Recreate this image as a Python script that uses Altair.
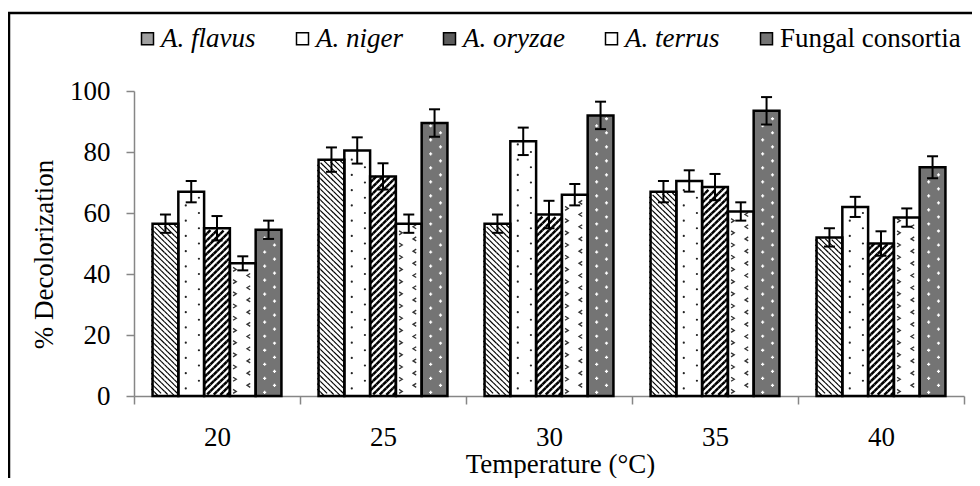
import altair as alt
import pandas as pd

temps = ["20", "25", "30", "35", "40"]
series = ["A. flavus", "A. niger", "A. oryzae", "A. terrus", "Fungal consortia"]

flavus = [56.5, 77.5, 56.5, 67.0, 52.0]
niger = [67.0, 80.5, 83.5, 70.5, 62.0]
oryzae = [55.0, 72.0, 59.5, 68.5, 50.0]
terrus = [43.5, 56.5, 66.0, 60.5, 58.5]
consortia = [54.5, 89.5, 92.0, 93.5, 75.0]

flavus_err = [3.0, 4.0, 3.0, 3.5, 3.0]
niger_err = [3.5, 4.3, 4.5, 3.5, 3.3]
oryzae_err = [4.0, 4.3, 4.5, 4.3, 4.0]
terrus_err = [2.3, 3.0, 3.5, 3.0, 3.0]
consortia_err = [3.0, 4.5, 4.5, 4.5, 3.6]

# bar background fills and legend swatch fills
bar_fills = ["#ffffff", "#ffffff", "#ffffff", "#ffffff", "#747474"]
legend_fills = ["#a0a0a0", "#ffffff", "#5c5c5c", "#ffffff", "#747474"]

vals = [flavus, niger, oryzae, terrus, consortia]
errs = [flavus_err, niger_err, oryzae_err, terrus_err, consortia_err]

rows = []
for si, (s, v, e) in enumerate(zip(series, vals, errs)):
    for t, vv, ee in zip(temps, v, e):
        rows.append({"temp": t, "series": s, "si": si, "value": vv, "err": ee})
df = pd.DataFrame(rows)

FONT = "Liberation Serif"
K = 8  # sub-columns per bar for textures
PO = 0.72
NPAD = 5  # whole padding slots on each side of the fine offset domain

x_enc = alt.X(
    "temp:N",
    sort=temps,
    scale=alt.Scale(paddingInner=0, paddingOuter=0),
    axis=alt.Axis(
        title="Temperature (°C)",
        tickBand="extent",
        labelAngle=0,
        labelFont=FONT,
        labelFontSize=27,
        labelPadding=20,
        tickSize=8,
        tickColor="#868686",
        domainColor="#868686",
        domainWidth=1.5,
        tickWidth=1.5,
        titleFont=FONT,
        titleFontSize=27,
        titleFontWeight="normal",
        titleX=426,
        titleY=76,
        titleBaseline="alphabetic",
    ),
)
xo_enc = alt.XOffset(
    "series:N", sort=series, scale=alt.Scale(domain=series, paddingOuter=PO, paddingInner=0)
)
fine_domain = list(range(-NPAD, 5 * K + NPAD))
xo_fine = alt.XOffset(
    "key:O",
    scale=alt.Scale(domain=fine_domain, paddingOuter=PO * K - NPAD, paddingInner=0),
)
y_scale = alt.Scale(domain=[0, 100], nice=False)

y_enc = alt.Y(
    "value:Q",
    scale=y_scale,
    axis=alt.Axis(
        title="% Decolorization",
        values=[0, 20, 40, 60, 80, 100],
        grid=False,
        labelFont=FONT,
        labelFontSize=27,
        labelPadding=16,
        tickSize=8,
        tickColor="#868686",
        domainColor="#868686",
        domainWidth=1.5,
        tickWidth=1.5,
        titleFont=FONT,
        titleFontSize=27,
        titleFontWeight="normal",
        titleX=-76,
        titleY=163,
    ),
)

base = alt.Chart(df)

bars_fill = base.mark_bar(strokeWidth=0).encode(
    x=x_enc,
    xOffset=xo_enc,
    y=y_enc,
    fill=alt.Fill("series:N", sort=series, scale=alt.Scale(domain=series, range=bar_fills), legend=None),
)

bars_outline = base.mark_bar(fill=None, stroke="black", strokeWidth=2.5).encode(
    x=x_enc, xOffset=xo_enc, y=alt.Y("value:Q", scale=y_scale)
)

SIDE = 1.0565  # one sub-column width expressed in value units (45 degree lines)


def hatch(series_name, period, direction, width):
    sign = "-" if direction == "back" else ""
    shape = "M-1,-1L1,1" if direction == "back" else "M-1,1L1,-1"
    start = (
        f"0.53 + (((({sign}datum.sub*{SIDE} - 0.53) % {period}) + {period}) % {period})"
    )
    return (
        base.transform_filter(alt.datum.series == series_name)
        .transform_calculate(subs=f"sequence(0, {K})")
        .transform_flatten(["subs"], as_=["sub"])
        .transform_calculate(key=f"datum.si*{K} + datum.sub")
        .transform_calculate(ys=f"sequence({start}, datum.value - 0.5, {period})")
        .transform_flatten(["ys"], as_=["yy"])
        .mark_point(shape=shape, size=10.4, stroke="black", strokeWidth=width, filled=False, opacity=1)
        .encode(x=x_enc, xOffset=xo_fine, y=alt.Y("yy:Q", scale=y_scale))
    )


def dots(series_name, subs, step, shape, size, color, filled, width=1.0):
    starts = " : ".join(
        [f"datum.sub == {s} ? {st}" for s, st in subs[:-1]] + [str(subs[-1][1])]
    )
    sub_list = "[" + ",".join(str(s) for s, _ in subs) + "]"
    m = dict(shape=shape, size=size, opacity=1)
    if filled:
        m.update(filled=True, fill=color, strokeWidth=0)
    else:
        m.update(filled=False, stroke=color, strokeWidth=width)
    return (
        base.transform_filter(alt.datum.series == series_name)
        .transform_calculate(subs=sub_list)
        .transform_flatten(["subs"], as_=["sub"])
        .transform_calculate(key=f"datum.si*{K} + datum.sub")
        .transform_calculate(ys=f"sequence({starts}, datum.value - 0.8, {step})")
        .transform_flatten(["ys"], as_=["yy"])
        .mark_point(**m)
        .encode(x=x_enc, xOffset=xo_fine, y=alt.Y("yy:Q", scale=y_scale))
    )


tex_flavus = hatch("A. flavus", 1.75, "back", 1.15)
tex_oryzae = hatch("A. oryzae", 2.2, "fwd", 2.5)
tex_niger = dots("A. niger", [(2, 2.5), (6, 5.0)], 5.0, "circle", 5, "#222222", True)
tex_terrus = dots(
    "A. terrus", [(1, 1.5)], 4.0, "M-1,-1L0.6,0L-1,1", 16, "#333333", False, 1.3
)
tex_terrus2 = dots(
    "A. terrus", [(5, 3.5)], 4.0, "M1,-1L-0.6,0L1,1", 16, "#333333", False, 1.3
)
tex_cons = dots(
    "Fungal consortia", [(2, 1.2), (5, 3.5)], 4.6, "cross", 10, "#ffffff", True
)

err_base = base.transform_calculate(lo="datum.value - datum.err", hi="datum.value + datum.err")

rules = err_base.mark_rule(color="black", strokeWidth=2).encode(
    x=x_enc, xOffset=xo_enc, y=alt.Y("lo:Q", scale=y_scale), y2="hi:Q"
)
cap_lo = err_base.mark_tick(color="black", thickness=2, size=11, orient="horizontal", opacity=1).encode(
    x=x_enc, xOffset=xo_enc, y=alt.Y("lo:Q", scale=y_scale)
)
cap_hi = err_base.mark_tick(color="black", thickness=2, size=11, orient="horizontal", opacity=1).encode(
    x=x_enc, xOffset=xo_enc, y=alt.Y("hi:Q", scale=y_scale)
)

legend_layer = base.mark_square(size=0, opacity=0).encode(
    x=x_enc,
    xOffset=xo_enc,
    y=alt.Y("value:Q", scale=y_scale),
    fill=alt.Fill(
        "series:N",
        sort=series,
        scale=alt.Scale(domain=series, range=legend_fills),
        legend=alt.Legend(
            title=None,
            orient="none",
            legendX=0,
            legendY=-66,
            direction="horizontal",
            columns=5,
            symbolType="square",
            symbolSize=144,
            symbolStrokeColor="black",
            symbolStrokeWidth=1.5,
            symbolOpacity=1,
            labelFontSize=27,
            labelFont=FONT,
            labelColor="black",
            labelOffset=0,
            labelLimit=400,
            columnPadding=33,
            labelFontStyle=alt.ExprRef("datum.label == 'Fungal consortia' ? 'normal' : 'italic'"),
        ),
    ),
)

border = alt.Chart(pd.DataFrame({"a": [0]})).mark_rect(
    fill=None, stroke="black", strokeWidth=2.5
).encode(x=alt.value(-125), x2=alt.value(900), y=alt.value(-78), y2=alt.value(500))

chart = (
    alt.layer(
        border,
        bars_fill,
        tex_flavus,
        tex_oryzae,
        tex_niger,
        tex_terrus,
        tex_terrus2,
        tex_cons,
        bars_outline,
        rules,
        cap_lo,
        cap_hi,
        legend_layer,
    )
    .resolve_scale(xOffset="independent", fill="independent")
    .properties(
        width=830,
        height=305,
        autosize=alt.AutoSizeParams(type="none"),
        padding={"left": 126, "top": 83, "right": 8, "bottom": 82},
    )
    .configure(font=FONT)
    .configure_view(stroke=None)
    .configure_axis(labelFont=FONT, titleFont=FONT, labelColor="black", titleColor="black")
)

chart.save("out.html", embed_options={"renderer": "svg", "actions": False})
